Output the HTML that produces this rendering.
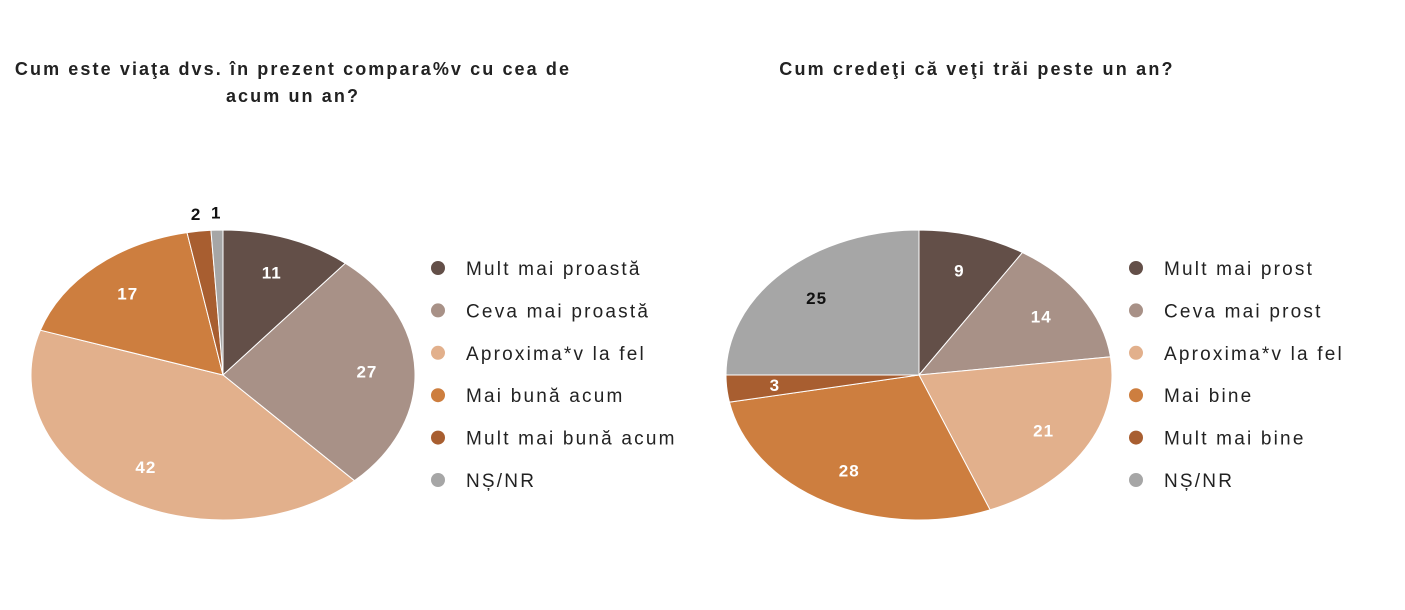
<!DOCTYPE html>
<html><head><meta charset="utf-8">
<style>
body{margin:0;background:#fff;width:1405px;height:605px;overflow:hidden;font-family:"Liberation Sans",sans-serif}
svg text{font-family:"Liberation Sans",sans-serif}
</style></head>
<body>
<svg id="chart" width="1405" height="605" viewBox="0 0 1405 605">
<text x="293" y="75" text-anchor="middle" font-size="18" letter-spacing="2.1" font-weight="bold" fill="#222">Cum este viaţa dvs. în prezent compara%v cu cea de</text>
<text x="293" y="102" text-anchor="middle" font-size="18" letter-spacing="2.1" font-weight="bold" fill="#222">acum un an?</text>
<text x="977" y="75" text-anchor="middle" font-size="18" letter-spacing="2.2" font-weight="bold" fill="#222">Cum credeţi că veţi trăi peste un an?</text>
<g id="left"></g><g id="right"></g>
</svg>
<script>
const leftCategories=["Mult mai proastă","Ceva mai proastă","Aproxima*v la fel","Mai bună acum","Mult mai bună acum","NȘ/NR"];
const leftValues=[11,27,42,17,2,1];
const rightCategories=["Mult mai prost","Ceva mai prost","Aproxima*v la fel","Mai bine","Mult mai bine","NȘ/NR"];
const rightValues=[9,14,21,28,3,25];
const colors=["#634f48","#a89187","#e2b08c","#cd7e3f","#a85e30","#a6a6a6"];
const NS="http://www.w3.org/2000/svg";
function mk(t,a,p){const e=document.createElementNS(NS,t);for(const k in a)e.setAttribute(k,a[k]);p.appendChild(e);return e;}
function drawPie(g,cats,vals,cx,cy,rx,ry,lx,name){
  const total=vals.reduce((a,b)=>a+b,0);let cum=0;
  const pt=(f,s)=>[cx+rx*s*Math.sin(f*2*Math.PI),cy-ry*s*Math.cos(f*2*Math.PI)];
  vals.forEach((v,i)=>{
    const f0=cum/total,f1=(cum+v)/total;cum+=v;
    const [x0,y0]=pt(f0,1),[x1,y1]=pt(f1,1);
    const large=(f1-f0)>0.5?1:0;
    const p=mk('path',{d:`M${cx},${cy}L${x0},${y0}A${rx},${ry} 0 ${large} 1 ${x1},${y1}Z`,fill:colors[i],stroke:'#fff','stroke-width':1},g);
    
    
    const small=v/total<0.025;
    const [tx,ty]=pt((f0+f1)/2,small?1.12:0.75);
    const t=mk('text',{x:tx,y:ty+6,'text-anchor':'middle','font-size':17,'letter-spacing':1,'font-weight':'bold',fill:(small||i==5)?'#111':'#fff'},g);
    t.textContent=v;
    
    
    const ly=268+i*42.4;
    const c=mk('circle',{cx:lx,cy:ly,r:7,fill:colors[i]},g);
    
    
    const lt=mk('text',{x:lx+28,y:ly+7,'font-size':19,'letter-spacing':2.2,fill:'#222'},g);
    lt.textContent=cats[i];
    
    
  });
}
drawPie(document.getElementById('left'),leftCategories,leftValues,223,375,192,145,438,'left');
drawPie(document.getElementById('right'),rightCategories,rightValues,919,375,193,145,1136,'right');
</script>
</body></html>
